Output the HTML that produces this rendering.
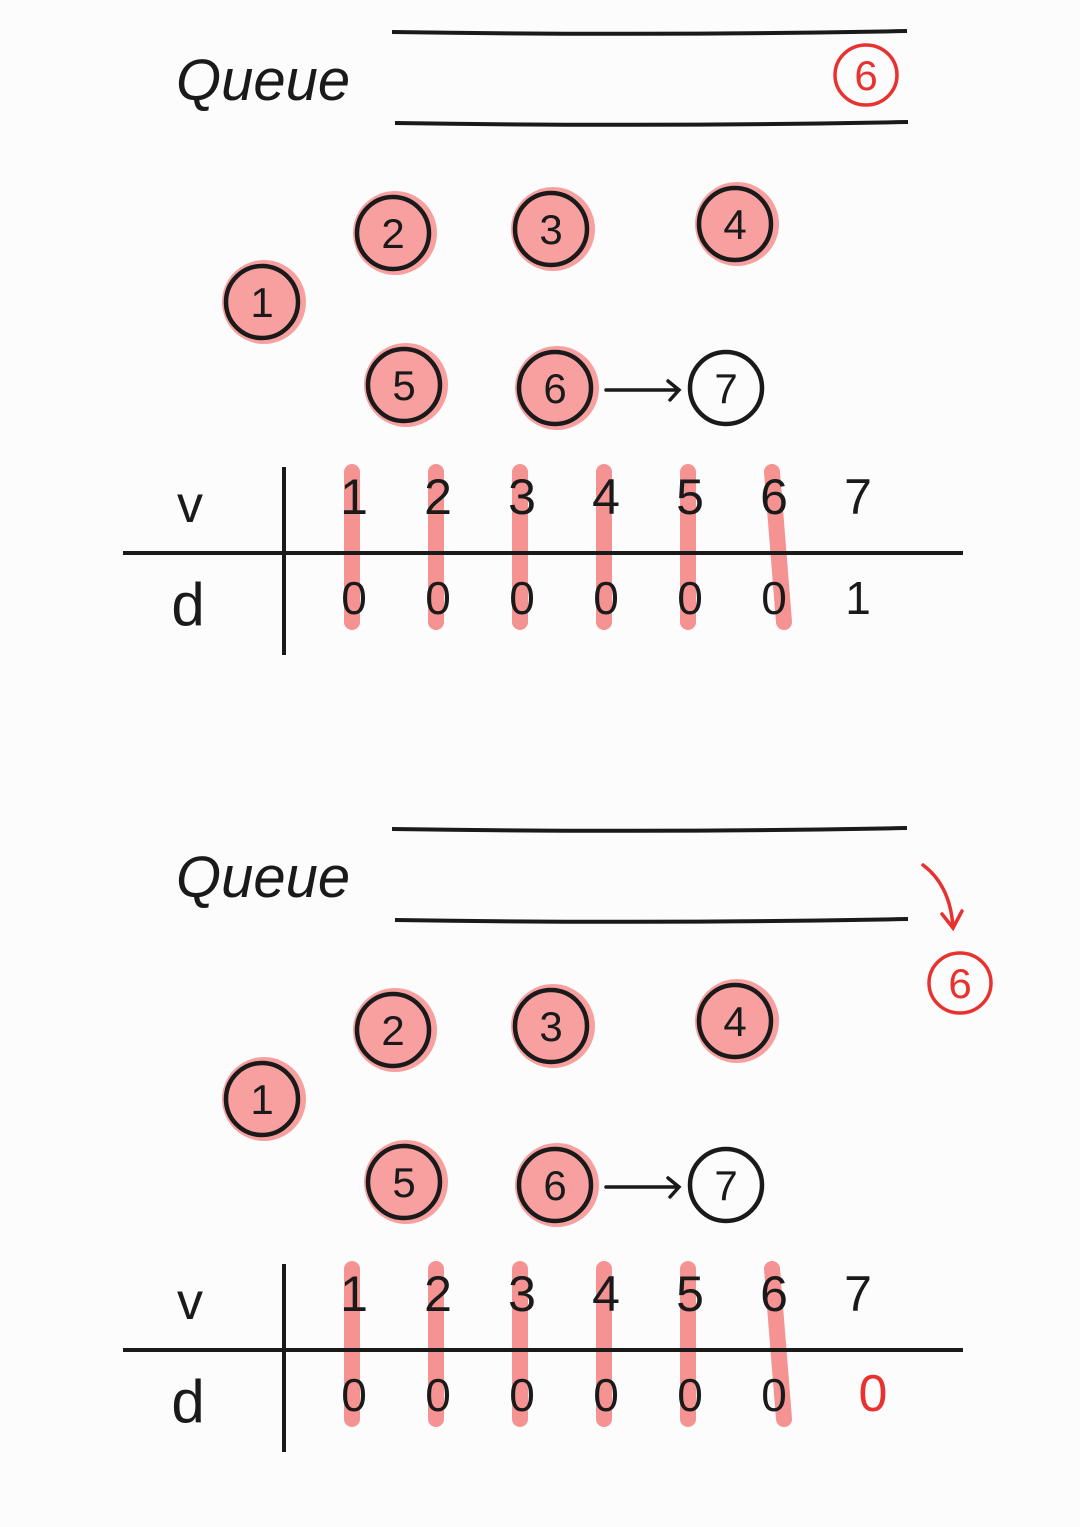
<!DOCTYPE html>
<html><head><meta charset="utf-8"><style>
html,body{margin:0;padding:0;background:#fcfcfc;width:1080px;height:1527px;overflow:hidden;}
svg{display:block;}
text{font-family:"Liberation Sans",sans-serif;fill:#1a1a1a;}
</style></head><body>
<svg id="root" width="1080" height="1527" viewBox="0 0 1080 1527"></svg>
<script>
const vertices = ["1","2","3","4","5","6","7"];
const distTop = ["0","0","0","0","0","0","1"];
const distBottom = ["0","0","0","0","0","0","0"];
const nodeLabels = ["1","2","3","4","5","6","7"];
const visited = [true,true,true,true,true,true,false];

const NS="http://www.w3.org/2000/svg";
const root=document.getElementById('root');
function mk(tag,attrs,parent){const e=document.createElementNS(NS,tag);for(const k in attrs)e.setAttribute(k,attrs[k]);(parent||root).appendChild(e);return e;}
const nodePos=[[262,302],[393,233],[551,229],[735,224],[404,385],[555,388],[726,388]];
function colX(i){return 352+i*84;}

function panel(dy,dist,redLast,queueRedX,queueRedY,arrowCurve,name){
  const g=mk('g',{transform:`translate(0,${dy})`});
  
  
  const q=mk('text',{x:176,y:100,'font-size':58,'font-style':'italic'},g);q.textContent='Queue';
  
  
  const l1=mk('path',{d:'M392 32 Q650 36 907 31',stroke:'#1a1a1a','stroke-width':4,fill:'none'},g);
  
  
  const l2=mk('path',{d:'M395 123 Q650 127 908 122',stroke:'#1a1a1a','stroke-width':4,fill:'none'},g);
  
  
  if(arrowCurve){
    const a=mk('path',{d:'M923 68 Q950 88 953 130 M942 117 L953 131 L962 114',stroke:'#e8322f','stroke-width':3.5,fill:'none','stroke-linecap':'round'},g);
    
    
  }
  const qc=mk('ellipse',{cx:queueRedX,cy:queueRedY,rx:31,ry:30,stroke:'#e8322f','stroke-width':3.5,fill:'none'},g);
  
  
  const qt=mk('text',{x:queueRedX,y:queueRedY+15,'font-size':42,'text-anchor':'middle',style:'fill:#e8322f'},g);qt.textContent='6';
  nodeLabels.forEach((lab,i)=>{
    const [x,y]=nodePos[i];
    if(visited[i]){
      const h=mk('circle',{cx:x+2,cy:y,r:42,fill:'#f8a0a0'},g);
      
      
    }
    const c=mk('circle',{cx:x,cy:y,r:36,fill:visited[i]?'#f8a0a0':'none',stroke:'#1a1a1a','stroke-width':4.5},g);
    
    
    const t=mk('text',{x:x,y:y+15,'font-size':42,'text-anchor':'middle'},g);t.textContent=lab;
  });
  const ar=mk('path',{d:'M606 390 L678 390 M668 381 L679 390 L670 400',stroke:'#1a1a1a','stroke-width':3.5,fill:'none','stroke-linecap':'round'},g);
  
  
  vertices.forEach((v,i)=>{
    const x=colX(i);
    if(i<6){
      const b=mk('line',{x1:x,y1:472,x2:x+(i==5?12:0),y2:622,stroke:'#f59292','stroke-width':16,'stroke-linecap':'round'},g);
      
      
    }
  });
  const vl=mk('line',{x1:284,y1:467,x2:284,y2:655,stroke:'#1a1a1a','stroke-width':4},g);
  
  
  const hl=mk('line',{x1:123,y1:553,x2:963,y2:553,stroke:'#1a1a1a','stroke-width':4},g);
  
  
  const vt=mk('text',{x:190,y:522,'font-size':52,'text-anchor':'middle'},g);vt.textContent='v';
  
  
  const dt=mk('text',{x:188,y:625,'font-size':60,'text-anchor':'middle'},g);dt.textContent='d';
  
  
  vertices.forEach((v,i)=>{
    const x=colX(i);
    const t=mk('text',{x:x+2,y:514,'font-size':50,'text-anchor':'middle'},g);t.textContent=v;
    
    
    const red=redLast&&i==vertices.length-1;
    const d=mk('text',{x:x+(red?17:2),y:614,'font-size':red?52:46,'text-anchor':'middle',style:red?'fill:#e8322f':''},g);d.textContent=dist[i];
    
    
  });
}
panel(0,distTop,false,866,75,false,'panel-before');
panel(797,distBottom,true,960,186,true,'panel-after');
</script>
</body></html>
